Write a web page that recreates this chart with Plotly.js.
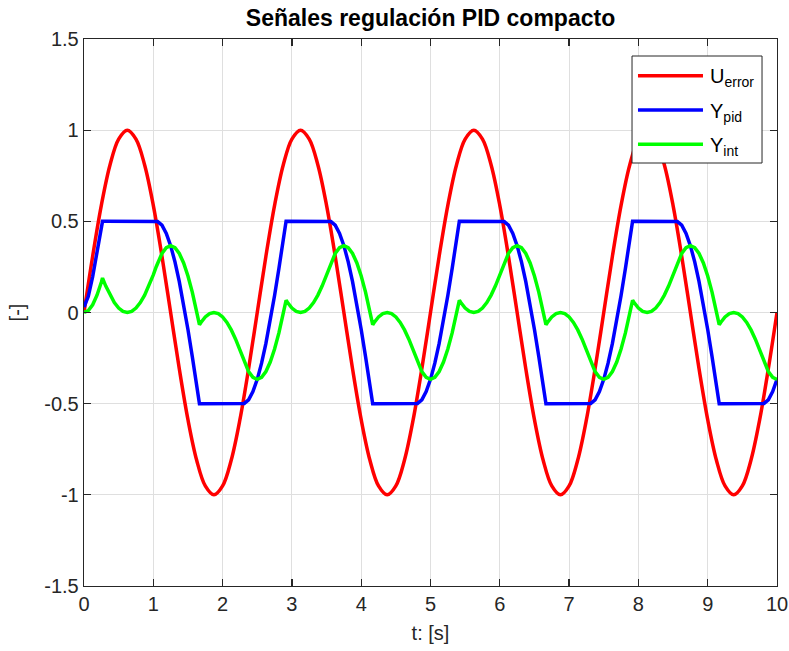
<!DOCTYPE html>
<html>
<head>
<meta charset="utf-8">
<script src="https://cdn.plot.ly/plotly-3.0.1.min.js"></script>
<style>html,body{margin:0;padding:0;background:#fff;}#chart{width:789px;height:651px;}</style>
</head>
<body>
<div id="chart"></div>
<script>
// U_error samples (every 0.125 s)
var t_u = [0,0.125,0.25,0.375,0.5,0.625,0.75,0.875,1,1.125,1.25,1.375,1.5,1.625,1.75,1.875,2,2.125,2.25,2.375,
  2.5,2.625,2.75,2.875,3,3.125,3.25,3.375,3.5,3.625,3.75,3.875,4,4.125,4.25,4.375,4.5,4.625,4.75,4.875,
  5,5.125,5.25,5.375,5.5,5.625,5.75,5.875,6,6.125,6.25,6.375,6.5,6.625,6.75,6.875,7,7.125,7.25,7.375,
  7.5,7.625,7.75,7.875,8,8.125,8.25,8.375,8.5,8.625,8.75,8.875,9,9.125,9.25,9.375,9.5,9.625,9.75,9.875,10];
var u_error = [0,0.309,0.5878,0.809,0.9511,1,0.9511,0.809,0.5878,0.309,0,-0.309,-0.5878,-0.809,-0.9511,-1,-0.9511,-0.809,-0.5878,-0.309,
  0,0.309,0.5878,0.809,0.9511,1,0.9511,0.809,0.5878,0.309,0,-0.309,-0.5878,-0.809,-0.9511,-1,-0.9511,-0.809,-0.5878,-0.309,
  0,0.309,0.5878,0.809,0.9511,1,0.9511,0.809,0.5878,0.309,0,-0.309,-0.5878,-0.809,-0.9511,-1,-0.9511,-0.809,-0.5878,-0.309,
  0,0.309,0.5878,0.809,0.9511,1,0.9511,0.809,0.5878,0.309,0,-0.309,-0.5878,-0.809,-0.9511,-1,-0.9511,-0.809,-0.5878,-0.309,0];

// Y_pid and Y_int samples
var t_y = [
  0,0.0625,0.125,0.1875,0.25,0.2671,0.3125,0.375,0.4375,0.5,0.5625,0.625,0.6875,0.75,0.8125,0.875,0.9375,1.0,1.0424,1.0625,1.125,1.1875,1.25,1.3125,1.375,1.4375,1.5,1.5625,1.625,1.666,1.6875,1.75,1.8125,1.875,1.9375,2.0,2.0625,2.125,2.1875,2.25,2.2924,2.3125,2.375,2.4375,2.5,
  2.5625,2.625,2.6875,2.75,2.8125,2.875,2.916,2.9375,3.0,3.0625,3.125,3.1875,3.25,3.3125,3.375,3.4375,3.5,3.5424,3.5625,3.625,3.6875,3.75,3.8125,3.875,3.9375,4.0,4.0625,4.125,4.166,4.1875,4.25,4.3125,4.375,4.4375,4.5,4.5625,4.625,4.6875,4.75,4.7924,4.8125,4.875,4.9375,5.0,
  5.0625,5.125,5.1875,5.25,5.3125,5.375,5.416,5.4375,5.5,5.5625,5.625,5.6875,5.75,5.8125,5.875,5.9375,6.0,6.0424,6.0625,6.125,6.1875,6.25,6.3125,6.375,6.4375,6.5,6.5625,6.625,6.666,6.6875,6.75,6.8125,6.875,6.9375,7.0,7.0625,7.125,7.1875,7.25,7.2924,7.3125,7.375,7.4375,7.5,
  7.5625,7.625,7.6875,7.75,7.8125,7.875,7.916,7.9375,8.0,8.0625,8.125,8.1875,8.25,8.3125,8.375,8.4375,8.5,8.5424,8.5625,8.625,8.6875,8.75,8.8125,8.875,8.9375,9.0,9.0625,9.125,9.166,9.1875,9.25,9.3125,9.375,9.4375,9.5,9.5625,9.625,9.6875,9.75,9.7924,9.8125,9.875,9.9375,10.0];
var y_pid = [
  0.03,0.0889,0.197,0.3218,0.4601,0.5,0.5,0.5,0.5,0.5,0.5,0.5,0.5,0.5,0.5,0.5,0.5,0.5,0.5,0.4988,0.4786,0.4341,0.3666,0.2777,0.1696,0.0448,-0.0935,-0.2418,-0.3965,-0.5,-0.5,-0.5,-0.5,-0.5,-0.5,-0.5,-0.5,-0.5,-0.5,-0.5,-0.5,-0.4988,-0.4786,-0.4341,-0.3666,
  -0.2777,-0.1696,-0.0448,0.0935,0.2418,0.3965,0.5,0.5,0.5,0.5,0.5,0.5,0.5,0.5,0.5,0.5,0.5,0.5,0.4988,0.4786,0.4341,0.3666,0.2777,0.1696,0.0448,-0.0935,-0.2418,-0.3965,-0.5,-0.5,-0.5,-0.5,-0.5,-0.5,-0.5,-0.5,-0.5,-0.5,-0.5,-0.5,-0.4988,-0.4786,-0.4341,-0.3666,
  -0.2777,-0.1696,-0.0448,0.0935,0.2418,0.3965,0.5,0.5,0.5,0.5,0.5,0.5,0.5,0.5,0.5,0.5,0.5,0.5,0.4988,0.4786,0.4341,0.3666,0.2777,0.1696,0.0448,-0.0935,-0.2418,-0.3965,-0.5,-0.5,-0.5,-0.5,-0.5,-0.5,-0.5,-0.5,-0.5,-0.5,-0.5,-0.5,-0.4988,-0.4786,-0.4341,-0.3666,
  -0.2777,-0.1696,-0.0448,0.0935,0.2418,0.3965,0.5,0.5,0.5,0.5,0.5,0.5,0.5,0.5,0.5,0.5,0.5,0.5,0.4988,0.4786,0.4341,0.3666,0.2777,0.1696,0.0448,-0.0935,-0.2418,-0.3965,-0.5,-0.5,-0.5,-0.5,-0.5,-0.5,-0.5,-0.5,-0.5,-0.5,-0.5,-0.5,-0.4988,-0.4786,-0.4341,-0.3666];
var y_int = [
  0,0.0107,0.0425,0.0948,0.1662,0.189,0.1464,0.0955,0.0545,0.0245,0.0062,0,0.0062,0.0245,0.0545,0.0955,0.1464,0.2061,0.2509,0.2718,0.3241,0.3559,0.3666,0.3559,0.3241,0.2718,0.2004,0.1118,0.008,-0.0671,-0.0545,-0.0245,-0.0062,0,-0.0062,-0.0245,-0.0545,-0.0955,-0.1464,-0.2061,-0.2509,-0.2718,-0.3241,-0.3559,-0.3666,
  -0.3559,-0.3241,-0.2718,-0.2004,-0.1118,-0.008,0.0671,0.0545,0.0245,0.0062,0,0.0062,0.0245,0.0545,0.0955,0.1464,0.2061,0.2509,0.2718,0.3241,0.3559,0.3666,0.3559,0.3241,0.2718,0.2004,0.1118,0.008,-0.0671,-0.0545,-0.0245,-0.0062,0,-0.0062,-0.0245,-0.0545,-0.0955,-0.1464,-0.2061,-0.2509,-0.2718,-0.3241,-0.3559,-0.3666,
  -0.3559,-0.3241,-0.2718,-0.2004,-0.1118,-0.008,0.0671,0.0545,0.0245,0.0062,0,0.0062,0.0245,0.0545,0.0955,0.1464,0.2061,0.2509,0.2718,0.3241,0.3559,0.3666,0.3559,0.3241,0.2718,0.2004,0.1118,0.008,-0.0671,-0.0545,-0.0245,-0.0062,0,-0.0062,-0.0245,-0.0545,-0.0955,-0.1464,-0.2061,-0.2509,-0.2718,-0.3241,-0.3559,-0.3666,
  -0.3559,-0.3241,-0.2718,-0.2004,-0.1118,-0.008,0.0671,0.0545,0.0245,0.0062,0,0.0062,0.0245,0.0545,0.0955,0.1464,0.2061,0.2509,0.2718,0.3241,0.3559,0.3666,0.3559,0.3241,0.2718,0.2004,0.1118,0.008,-0.0671,-0.0545,-0.0245,-0.0062,0,-0.0062,-0.0245,-0.0545,-0.0955,-0.1464,-0.2061,-0.2509,-0.2718,-0.3241,-0.3559,-0.3666];

var x_ticks = [0,1,2,3,4,5,6,7,8,9,10];
var x_ticklabels = ['0','1','2','3','4','5','6','7','8','9','10'];
var y_ticks = [-1.5,-1,-0.5,0,0.5,1,1.5];
var y_ticklabels = ['-1.5','-1','-0.5','0','0.5','1','1.5'];
var series_names = ['U<sub>error</sub>','Y<sub>pid</sub>','Y<sub>int</sub>'];
var series_colors = ['#ff0000','#0000ff','#00ff00'];

var FONT = 'Liberation Sans, Arial, Helvetica, sans-serif';
var AX = '#262626';
var LW = 3.5;

var traces = [
  {x: t_u, y: u_error, mode: 'lines', line: {color: series_colors[0], width: LW, shape: 'spline', smoothing: 1}, showlegend: false},
  {x: t_y, y: y_pid, mode: 'lines', line: {color: series_colors[1], width: LW}, showlegend: false},
  {x: t_y, y: y_int, mode: 'lines', line: {color: series_colors[2], width: LW}, showlegend: false}
];

// manual legend (paper coords)
var legBox = {x0: 0.7908, x1: 0.9784, y0: 0.7733, y1: 0.9689};
var legRows = [0.9329, 0.8702, 0.8075];
var shapes = [{type: 'rect', xref: 'paper', yref: 'paper', x0: legBox.x0, x1: legBox.x1, y0: legBox.y0, y1: legBox.y1,
  line: {color: AX, width: 1}, fillcolor: '#ffffff', layer: 'above'}];
var annotations = [];
for (var i = 0; i < 3; i++) {
  shapes.push({type: 'line', xref: 'paper', yref: 'paper', x0: 0.7994, x1: 0.8932, y0: legRows[i], y1: legRows[i],
    line: {color: series_colors[i], width: LW}, layer: 'above'});
  annotations.push({xref: 'paper', yref: 'paper', x: 0.9004, y: legRows[i] - 0.004, xanchor: 'left', yanchor: 'middle',
    text: series_names[i], showarrow: false, font: {family: FONT, size: 20, color: '#000000'}});
}

var axisCommon = {
  showline: true, mirror: 'ticks', linecolor: AX, linewidth: 1.3,
  ticks: 'inside', ticklen: 7, tickwidth: 1.3, tickcolor: AX,
  showgrid: true, gridcolor: '#dfdfdf', gridwidth: 1, zeroline: false,
  tickfont: {family: FONT, size: 20, color: AX}
};

var layout = {
  width: 789, height: 651,
  margin: {l: 84, r: 12, t: 39, b: 65},
  paper_bgcolor: '#ffffff', plot_bgcolor: '#ffffff',
  showlegend: false,
  title: {text: '<b>Señales regulación PID compacto</b>', x: 0.5, xref: 'paper', y: 0.972, yref: 'container', yanchor: 'middle',
    font: {family: FONT, size: 23, color: '#000000'}},
  xaxis: Object.assign({}, axisCommon, {range: [0, 10], tickvals: x_ticks, ticktext: x_ticklabels,
    title: {text: 't: [s]', font: {family: FONT, size: 20, color: AX}, standoff: 11}}),
  yaxis: Object.assign({}, axisCommon, {range: [-1.5, 1.5], tickvals: y_ticks, ticktext: y_ticklabels,
    title: {text: '[-]', font: {family: FONT, size: 20, color: AX}, standoff: 14}}),
  shapes: shapes,
  annotations: annotations
};

Plotly.newPlot('chart', traces, layout, {staticPlot: true, displayModeBar: false});
</script>
</body>
</html>
